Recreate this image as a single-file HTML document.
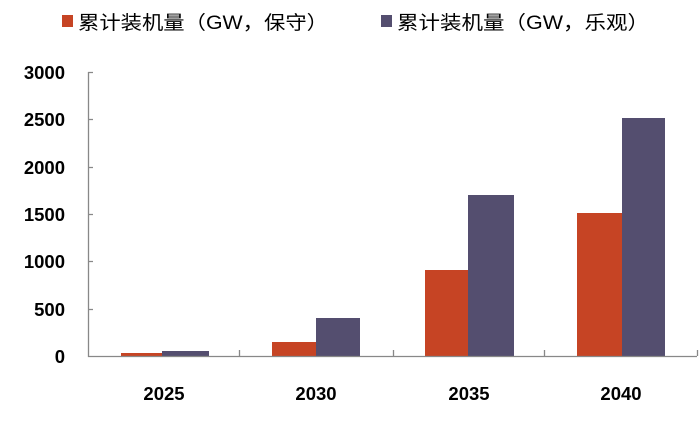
<!DOCTYPE html>
<html><head><meta charset="utf-8"><style>
body{margin:0;background:#fff}
svg{display:block}
text{font-family:"Liberation Sans","Noto Sans CJK SC",sans-serif;fill:#000}
</style></head><body>
<svg width="699" height="423" viewBox="0 0 699 423">
<rect x="62" y="15" width="11" height="12" fill="#C64424"/>
<text x="78" y="29" font-size="19" textLength="250" lengthAdjust="spacingAndGlyphs">累计装机量（GW，保守）</text>
<rect x="381" y="15" width="11" height="12" fill="#544E6F"/>
<text x="397" y="29" font-size="19" textLength="252" lengthAdjust="spacingAndGlyphs">累计装机量（GW，乐观）</text>
<g font-size="18.5" text-anchor="end" font-weight="bold" fill="#111">
<text x="65" y="79">3000</text>
<text x="65" y="126">2500</text>
<text x="65" y="174">2000</text>
<text x="65" y="221">1500</text>
<text x="65" y="268">1000</text>
<text x="65" y="316">500</text>
<text x="65" y="363">0</text>
</g>
<g fill="#C64424">
<rect x="121" y="353" width="41" height="3"/>
<rect x="272" y="342" width="44" height="14"/>
<rect x="425" y="270" width="43" height="86"/>
<rect x="577" y="213" width="45" height="143"/>
</g>
<g fill="#544E6F">
<rect x="162" y="351" width="47" height="5"/>
<rect x="316" y="318" width="44" height="38"/>
<rect x="468" y="195" width="46" height="161"/>
<rect x="622" y="118" width="43" height="238"/>
</g>
<g stroke="#888" stroke-width="1.3" fill="none">
<path d="M88.5 72V356.5H697"/>
<path d="M88 72.5h5M88 119.5h5M88 167.5h5M88 214.5h5M88 261.5h5M88 309.5h5"/>
<path d="M239.5 356v-6M393.5 356v-6M544.5 356v-6M697.5 356v-6"/>
</g>
<g font-size="18.5" text-anchor="middle" font-weight="bold">
<text x="164" y="400">2025</text>
<text x="316" y="400">2030</text>
<text x="469" y="400">2035</text>
<text x="621" y="400">2040</text>
</g>
</svg>
</body></html>
